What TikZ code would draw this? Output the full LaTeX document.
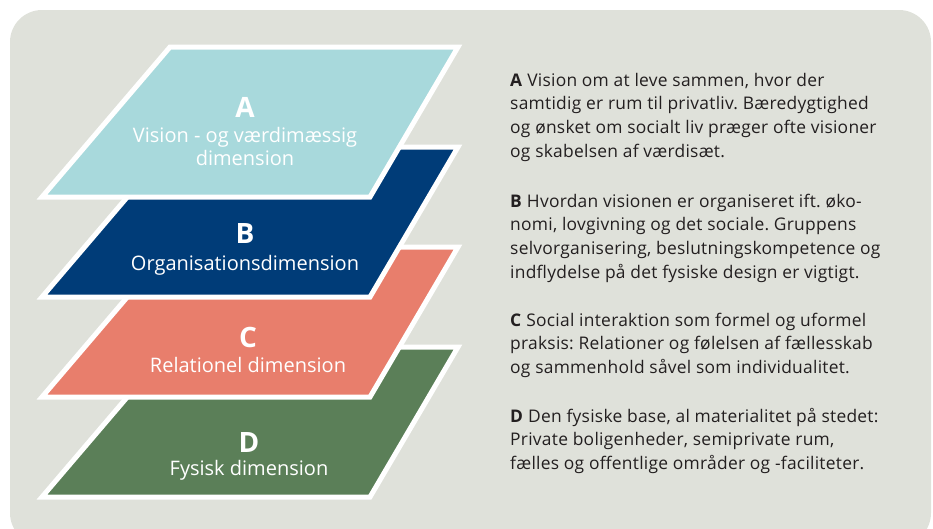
\documentclass[tikz,border=0pt]{standalone}
\usepackage{fontspec}
\setmainfont{Open Sans}
\frenchspacing
\definecolor{bgc}{HTML}{DFE1DA}
\definecolor{layA}{HTML}{A8D9DC}
\definecolor{layB}{HTML}{003C78}
\definecolor{layC}{HTML}{E87E6C}
\definecolor{layD}{HTML}{5B7F58}
\definecolor{txt}{HTML}{231F20}
\newcommand{\plines}[1]{\begin{tabular}[t]{@{}l@{}}#1\end{tabular}}
\begin{document}
\begin{tikzpicture}[x=1pt,y=-1pt,
  layer/.style={draw=white,line width=5pt,line join=miter},
  letter/.style={anchor=base,text=white,font=\fontsize{28}{30}\selectfont\bfseries,inner sep=0pt},
  lname/.style={anchor=base,text=white,font=\fontsize{20}{23}\selectfont,inner sep=0pt},
  para/.style={anchor=base west,text=txt,inner sep=0pt,font=\fontsize{17.4}{23.8}\selectfont\frenchspacing\addfontfeatures{LetterSpace=1.5}}]
\useasboundingbox (0,0) rectangle (933,528);
\begin{scope}
\clip (0,0) rectangle (933,528);
\fill[bgc,rounded corners=32pt] (10,10) rectangle (931,545);
\end{scope}
\foreach \c/\dy in {layD/300,layC/200,layB/100,layA/0}
  \filldraw[layer,fill=\c] (170,{47+\dy}) -- (458,{47+\dy}) -- (370,{197+\dy}) -- (42,{197+\dy}) -- cycle;
% layer labels
\node[letter] (la) at (245,117) {A};
\node[lname] (la1) at (245,142) {Vision - og værdimæssig};
\node[lname] (la2) at (245,165) {dimension};
\node[letter] (lb) at (245,243) {B};
\node[lname] (lb1) at (245,270) {Organisationsdimension};
\node[letter] (lc) at (248,347) {C};
\node[lname] (lc1) at (248,372) {Relationel dimension};
\node[letter] (ld) at (249,452) {D};
\node[lname] (ld1) at (249,475) {Fysisk dimension};
% descriptions
\node[para] (pa) at (510,86) {\plines{\textbf{A} Vision om at leve sammen, hvor der\\samtidig er rum til privatliv. Bæredygtighed\\og ønsket om socialt liv præger ofte visioner\\og skabelsen af værdisæt.}};
\node[para] (pb) at (510,207) {\plines{\textbf{B} Hvordan visionen er organiseret ift. øko-\\nomi, lovgivning og det sociale. Gruppens\\selvorganisering, beslutningskompetence og\\indflydelse på det fysiske design er vigtigt.}};
\node[para] (pc) at (510,326) {\plines{\textbf{C} Social interaktion som formel og uformel\\praksis: Relationer og følelsen af fællesskab\\og sammenhold såvel som individualitet.}};
\node[para] (pd) at (510,422) {\plines{\textbf{D} Den fysiske base, al materialitet på stedet:\\Private boligenheder, semiprivate rum,\\fælles og offentlige områder og -faciliteter.}};
\end{tikzpicture}
\end{document}
